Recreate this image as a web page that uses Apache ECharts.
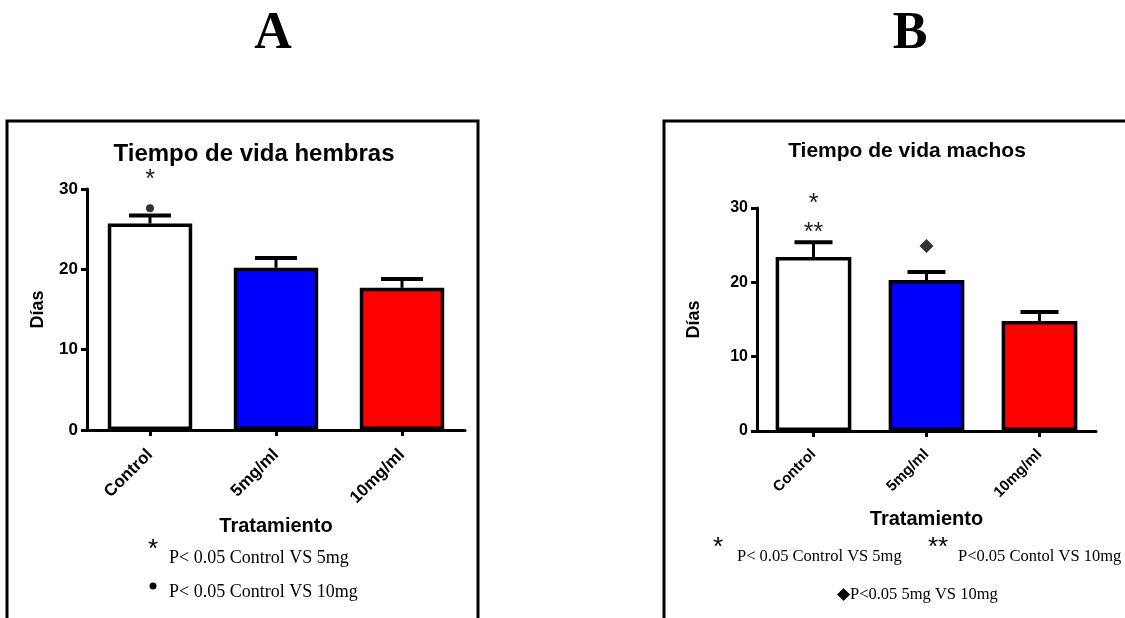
<!DOCTYPE html>
<html>
<head>
<meta charset="utf-8">
<script src="https://cdn.jsdelivr.net/npm/echarts@6/dist/echarts.min.js"></script>
<style>
html,body{margin:0;padding:0;background:#fff;}
#chart{width:1125px;height:618px;}
</style>
</head>
<body>
<div id="chart"></div>
<script>
// ---- data ----
const categories = ['Control', '5mg/ml', '10mg/ml'];
const yTicks = [0, 10, 20, 30];
const barColors = ['#ffffff', '#0000ff', '#ff0000'];
const hembrasMean = [25.7, 20.2, 17.7];
const hembrasSem = [1.0, 1.2, 1.1];
const machosMean = [23.4, 20.3, 14.8];
const machosSem = [2.0, 1.1, 1.2];
// significance marks: [categoryIndex, yValue, text]
const hembrasStars = [[0, 31.6, '*']];
const hembrasDots = [[0, 27.6]];
const machosStars = [[0, 31.0, '*'], [0, 27.2, '**']];
const machosDiamonds = [[1, 24.9]];
const titleA = 'Tiempo de vida hembras';
const titleB = 'Tiempo de vida machos';
const notesA = ['P< 0.05 Control VS 5mg', 'P< 0.05 Control VS 10mg'];
const notesB = ['P< 0.05 Control VS 5mg', 'P<0.05 Contol VS 10mg', 'P<0.05 5mg VS 10mg'];

const chart = echarts.init(document.getElementById('chart'));
const SANS = 'Liberation Sans, Arial, sans-serif';
const SERIF = 'Liberation Serif, Times New Roman, serif';
const sz = [
  {xl: 17, xm: 22, name: 20, gap: 86, yl: 17, yname: 18, ygap: 40},
  {xl: 15, xm: 21, name: 20, gap: 78, yl: 16, yname: 18, ygap: 54}
];

function xAxisCfg(gi) {
  const s = sz[gi];
  return {
    gridIndex: gi, type: 'category', data: categories,
    axisLine: {lineStyle: {color: '#000', width: 3}},
    axisTick: {show: true, alignWithLabel: true, length: 6, lineStyle: {width: 3, color: '#000'}},
    axisLabel: {rotate: 45, color: '#000', fontFamily: SANS, fontWeight: 'bold', fontSize: s.xl, margin: s.xm},
    name: 'Tratamiento', nameLocation: 'middle', nameGap: s.gap,
    nameTextStyle: {color: '#000', fontFamily: SANS, fontWeight: 'bold', fontSize: s.name}
  };
}
function yAxisCfg(gi) {
  const s = sz[gi];
  return {
    gridIndex: gi, type: 'value', min: yTicks[0], max: yTicks[yTicks.length - 1], interval: 10,
    splitLine: {show: false},
    axisLine: {show: true, lineStyle: {color: '#000', width: 3}},
    axisTick: {show: true, length: 6, lineStyle: {width: 3, color: '#000'}},
    axisLabel: {color: '#000', fontFamily: SANS, fontWeight: 'bold', fontSize: s.yl, margin: 9},
    name: 'Días', nameLocation: 'middle', nameGap: s.ygap, nameRotate: 90,
    nameTextStyle: {color: '#000', fontFamily: SANS, fontWeight: 'bold', fontSize: s.yname}
  };
}
function barSeries(gi, means) {
  return {
    type: 'bar', xAxisIndex: gi, yAxisIndex: gi, barWidth: '67%',
    data: means.map((v, i) => ({value: v, itemStyle: {color: barColors[i]}})),
    itemStyle: {borderColor: '#000', borderWidth: 3.5},
    z: 2
  };
}
function errSeries(gi, means, sems, capHalf) {
  return {
    type: 'custom', xAxisIndex: gi, yAxisIndex: gi, z: 3,
    data: means.map((m, i) => [i, m, m + sems[i]]),
    renderItem: function (params, api) {
      const p0 = api.coord([api.value(0), api.value(1)]);
      const p1 = api.coord([api.value(0), api.value(2)]);
      return {type: 'group', children: [
        {type: 'line', shape: {x1: p0[0], y1: p0[1], x2: p1[0], y2: p1[1]}, style: {stroke: '#000', lineWidth: 3}},
        {type: 'line', shape: {x1: p1[0] - capHalf, y1: p1[1], x2: p1[0] + capHalf, y2: p1[1]}, style: {stroke: '#000', lineWidth: 4}}
      ]};
    }
  };
}
function starSeries(gi, stars) {
  return {
    type: 'custom', xAxisIndex: gi, yAxisIndex: gi, z: 4, clip: false,
    data: stars,
    renderItem: function (params, api) {
      const p = api.coord([api.value(0), api.value(1)]);
      return {type: 'text', x: p[0], y: p[1] + 4, style: {text: stars[params.dataIndex][2], fill: '#222', font: 'normal 25px ' + SANS, textAlign: 'center', textVerticalAlign: 'middle', letterSpacing: 3}};
    }
  };
}
function markerSeries(gi, pts, symbol, size) {
  return {
    type: 'scatter', xAxisIndex: gi, yAxisIndex: gi, z: 4, clip: false,
    data: pts, symbol: symbol, symbolSize: size, itemStyle: {color: '#000'}
  };
}

const option = {
  animation: false,
  backgroundColor: '#fff',
  title: [
    {text: 'A', left: 268, top: 4, textAlign: 'center', textStyle: {fontFamily: SERIF, fontWeight: 'bold', fontSize: 52, color: '#000'}},
    {text: 'B', left: 905, top: 4, textAlign: 'center', textStyle: {fontFamily: SERIF, fontWeight: 'bold', fontSize: 52, color: '#000'}},
    {text: titleA, left: 249, top: 137, textAlign: 'center', textStyle: {fontFamily: SANS, fontWeight: 'bold', fontSize: 24, color: '#000'}},
    {text: titleB, left: 902, top: 136, textAlign: 'center', textStyle: {fontFamily: SANS, fontWeight: 'bold', fontSize: 21, color: '#000'}}
  ],
  grid: [
    {left: 87, top: 189, width: 378, height: 241},
    {left: 757, top: 208, width: 339, height: 223}
  ],
  xAxis: [xAxisCfg(0), xAxisCfg(1)],
  yAxis: [yAxisCfg(0), yAxisCfg(1)],
  series: [
    barSeries(0, hembrasMean),
    errSeries(0, hembrasMean, hembrasSem, 21),
    starSeries(0, hembrasStars),
    markerSeries(0, hembrasDots, 'circle', 8),
    barSeries(1, machosMean),
    errSeries(1, machosMean, machosSem, 19),
    starSeries(1, machosStars),
    markerSeries(1, machosDiamonds, 'diamond', 14)
  ],
  graphic: [
    {type: 'rect', shape: {x: 7, y: 121, width: 471, height: 520}, style: {fill: 'none', stroke: '#000', lineWidth: 3}, silent: true},
    {type: 'rect', shape: {x: 664, y: 121, width: 480, height: 520}, style: {fill: 'none', stroke: '#000', lineWidth: 3}, silent: true},
    // footnotes A
    {type: 'text', x: 153, y: 550, style: {text: '*', font: 'normal 26px ' + SANS, fill: '#000', textAlign: 'center', textVerticalAlign: 'middle'}},
    {type: 'text', x: 169, y: 558, style: {text: notesA[0], font: 'normal 18px ' + SERIF, fill: '#000', textVerticalAlign: 'middle'}},
    {type: 'circle', shape: {cx: 153, cy: 586, r: 3.5}, style: {fill: '#000'}},
    {type: 'text', x: 169, y: 592, style: {text: notesA[1], font: 'normal 18px ' + SERIF, fill: '#000', textVerticalAlign: 'middle'}},
    // footnotes B
    {type: 'text', x: 718, y: 548, style: {text: '*', font: 'normal 26px ' + SANS, fill: '#000', textAlign: 'center', textVerticalAlign: 'middle'}},
    {type: 'text', x: 737, y: 557, style: {text: notesB[0], font: 'normal 16.5px ' + SERIF, fill: '#000', textVerticalAlign: 'middle'}},
    {type: 'text', x: 938, y: 548, style: {text: '**', font: 'normal 26px ' + SANS, fill: '#000', textAlign: 'center', textVerticalAlign: 'middle', letterSpacing: 3}},
    {type: 'text', x: 958, y: 557, style: {text: notesB[1], font: 'normal 16.5px ' + SERIF, fill: '#000', textVerticalAlign: 'middle'}},
    {type: 'text', x: 837, y: 595, style: {text: '◆' + notesB[2], font: 'normal 16.5px ' + SERIF, fill: '#000', textVerticalAlign: 'middle'}}
  ]
};
chart.setOption(option);
</script>
</body>
</html>
